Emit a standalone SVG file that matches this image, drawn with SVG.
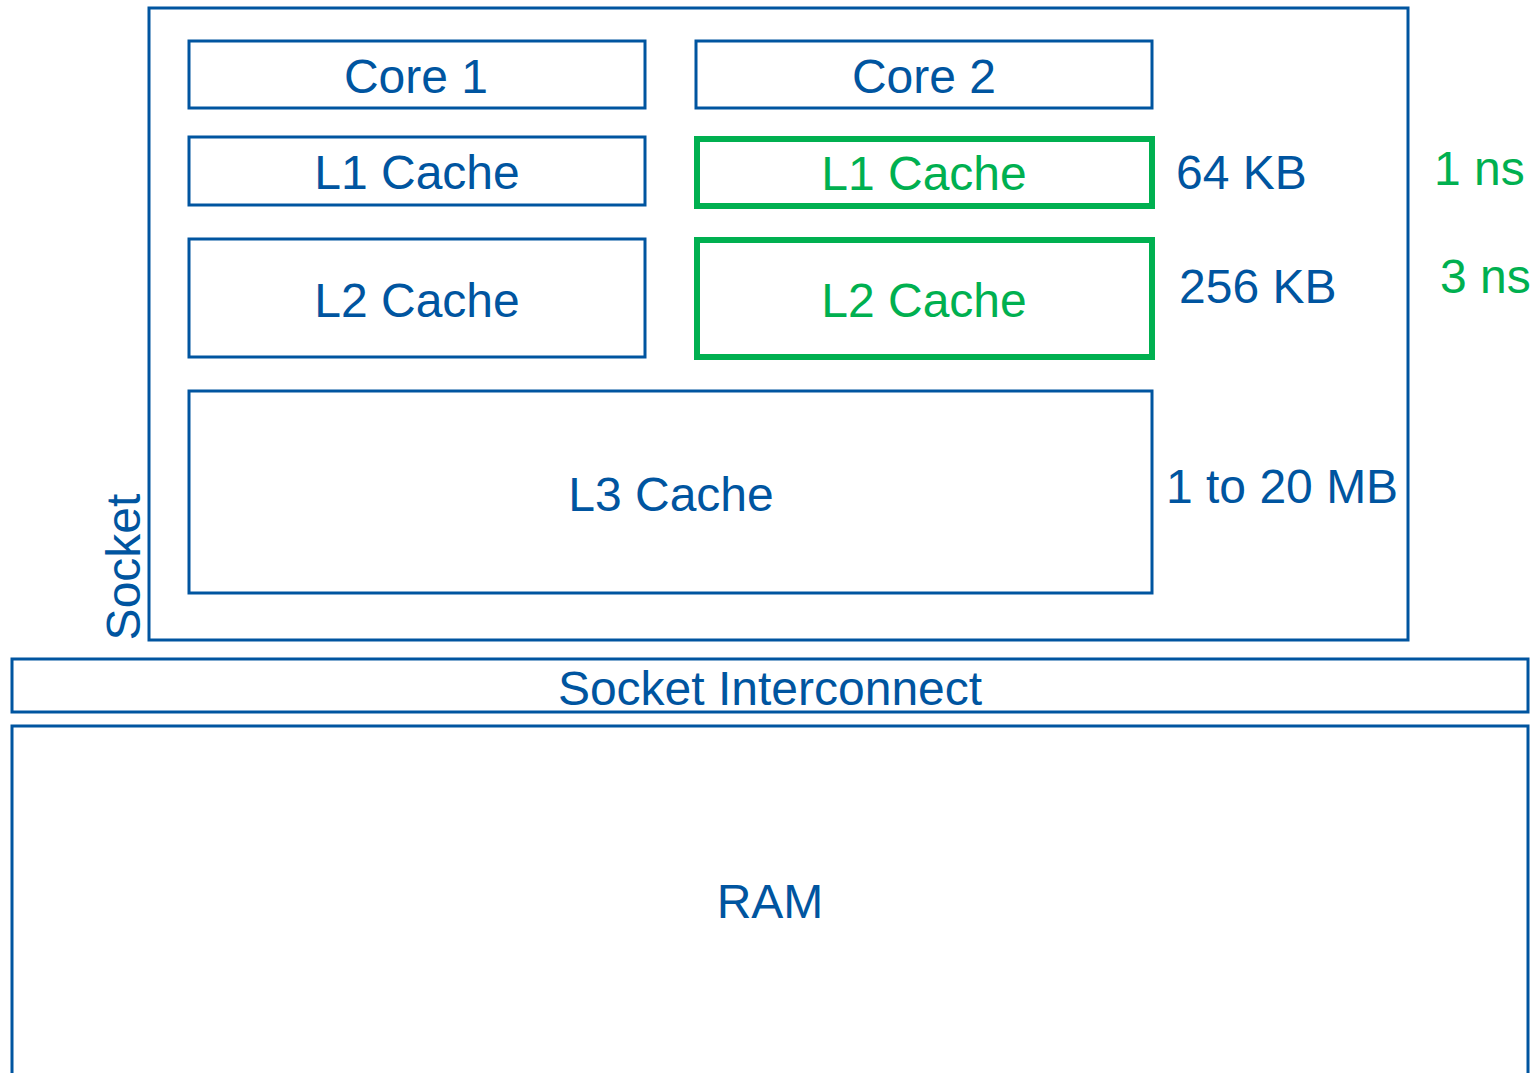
<svg xmlns="http://www.w3.org/2000/svg" width="1539" height="1073" viewBox="0 0 1539 1073">
<style>
.b{fill:none;stroke:#0055A0;stroke-width:3}
.g{fill:none;stroke:#00B050;stroke-width:6}
text{font-family:"Liberation Sans",Arial,sans-serif;font-size:48px}
.tb{fill:#0055A0}
.tg{fill:#00B050}
</style>
<rect width="1539" height="1073" fill="#fff"/>
<g id="socket">
<rect class="b" x="149" y="8" width="1259" height="632"/>
<text class="tb" transform="translate(140,567) rotate(-90)" text-anchor="middle">Socket</text>
</g>
<g id="core1"><rect class="b" x="189" y="41" width="456" height="67"/><text class="tb" x="416" y="93" text-anchor="middle">Core 1</text></g>
<g id="core2"><rect class="b" x="696" y="41" width="456" height="67"/><text class="tb" x="924" y="93" text-anchor="middle">Core 2</text></g>
<g id="l1a"><rect class="b" x="189" y="137" width="456" height="68"/><text class="tb" x="417" y="189" text-anchor="middle">L1 Cache</text></g>
<g id="l1b"><rect class="g" x="697" y="139" width="455" height="67"/><text class="tg" x="924" y="190" text-anchor="middle">L1 Cache</text></g>
<g id="l2a"><rect class="b" x="189" y="239" width="456" height="118"/><text class="tb" x="417" y="317" text-anchor="middle">L2 Cache</text></g>
<g id="l2b"><rect class="g" x="697" y="240" width="455" height="117"/><text class="tg" x="924" y="317" text-anchor="middle">L2 Cache</text></g>
<g id="l3"><rect class="b" x="189" y="391" width="963" height="202"/><text class="tb" x="671" y="511" text-anchor="middle">L3 Cache</text></g>
<g id="labels">
<text class="tb" x="1176" y="189">64 KB</text>
<text class="tb" x="1179" y="303">256 KB</text>
<text class="tb" x="1166" y="503">1 to 20 MB</text>
<text class="tg" x="1434" y="185">1 ns</text>
<text class="tg" x="1440" y="293">3 ns</text>
</g>
<g id="interconnect"><rect class="b" x="12" y="659" width="1516" height="53"/><text class="tb" x="770" y="705" text-anchor="middle">Socket Interconnect</text></g>
<g id="ram"><rect class="b" x="12" y="726" width="1516" height="360"/><text class="tb" x="770" y="918" text-anchor="middle">RAM</text></g>
<g id="connectors"></g>
</svg>
